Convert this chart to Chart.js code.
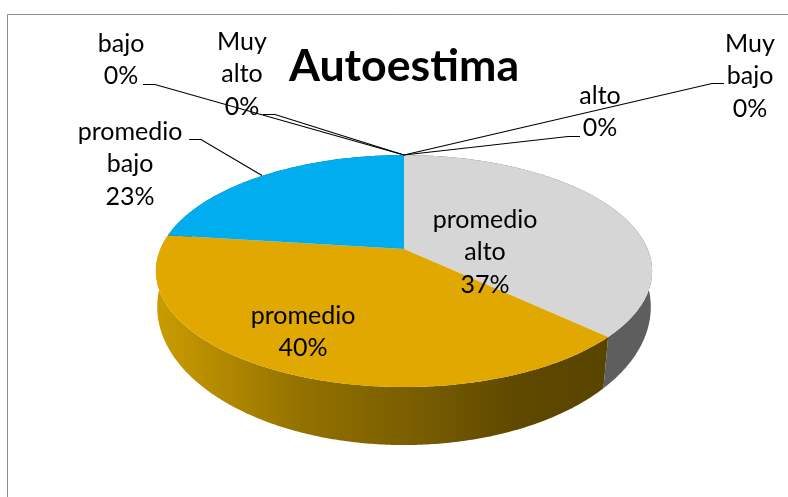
<!DOCTYPE html>
<html><head><meta charset="utf-8">
<style>html,body{margin:0;padding:0;background:#fff}canvas{display:block}</style>
<script src="https://cdn.jsdelivr.net/npm/chart.js@4"></script>
</head><body><canvas id="c" width="788" height="497"></canvas>
<script>
const categories = ["Muy bajo","alto","promedio alto","promedio","promedio bajo","bajo","Muy alto"];
const values = [0,0,37,40,23,0,0];
const sliceColors = ["#a5a5a5","#ffc000","#d6d6d6","#e0a800","#00adee","#264478","#70ad47"];
const titleText = "Autoestima";
const labelCenters = [[750,44],[600,96],[485,220],[303,316],[130,132],[121,44],[242,42]];
const leaders = [
  [[724,83.5],[712,83.5],[404,155]],
  [[580,136.5],[568,136.5],[404,155]],
  null,null,
  [[189,139.5],[201,139.5],[262,175.5]],
  [[143,84.5],[155,84.5],[404,155]],
  [[263,114.5],[275,114.5],[404,155]]
];
const LINE_H = 32.4;
const TOP = {k:-0.19,a:243.6,b:111.8,dy:0};
const BOT = {k:-0.16,a:243.6,b:134.5,dy:35.9};

function pt(arc,angle,p){
  const th = angle + Math.PI/2, x = Math.sin(th), y = -Math.cos(th), d = 1 + p.k*y;
  return [arc.x + p.a*x/d, arc.y + p.dy + p.b*y/d];
}
function rim(ctx,arc,s,e,p,move){
  const n = Math.max(2,Math.ceil(Math.abs(e-s)/0.01));
  for(let i=0;i<=n;i++){
    const q = pt(arc,s+(e-s)*i/n,p);
    (i===0&&move)?ctx.moveTo(q[0],q[1]):ctx.lineTo(q[0],q[1]);
  }
}
const pie3d = {
  id:'pie3d',
  beforeDraw(chart){
    const c = chart.ctx;
    c.save();c.strokeStyle='#8e8e8e';c.lineWidth=1;
    c.beginPath();c.moveTo(7.5,497);c.lineTo(7.5,14.5);c.lineTo(788,14.5);c.stroke();c.restore();
  },
  beforeDatasetDraw(chart,args){
    const c = chart.ctx, arcs = chart.getDatasetMeta(args.index).data;
    const grad = c.createLinearGradient(156,0,608,0);
    grad.addColorStop(0,'#cb9c00');grad.addColorStop(0.32,'#947200');
    grad.addColorStop(0.55,'#7b5f00');grad.addColorStop(0.8,'#5f4900');grad.addColorStop(1,'#594400');
    const wall = ['#5e5e5e','#5e5e5e','#5e5e5e',grad,'#005f82','#5e5e5e','#5e5e5e'];
    c.save();
    [4,2,3].forEach(i=>{
      const a = arcs[i];
      c.beginPath();
      rim(c,a,a.startAngle,a.endAngle,TOP,true);
      rim(c,a,a.endAngle,a.startAngle,BOT,false);
      c.closePath();c.fillStyle=wall[i];c.fill();
    });
    arcs.forEach((a,i)=>{
      if(a.endAngle-a.startAngle<=0) return;
      c.beginPath();c.moveTo(a.x,a.y);
      rim(c,a,a.startAngle,a.endAngle,TOP,false);
      c.closePath();c.fillStyle=sliceColors[i];c.fill();
    });
    c.restore();
    return false;
  },
  afterDatasetsDraw(chart){
    const c = chart.ctx;
    c.save();
    c.font='25px Lato';c.fillStyle='#000';c.textAlign='center';c.textBaseline='middle';
    categories.forEach((cat,i)=>{
      const lines = cat.split(' ').concat([values[i]+'%']);
      lines.forEach((t,j)=>c.fillText(t,labelCenters[i][0],labelCenters[i][1]+j*LINE_H));
    });
    c.strokeStyle='#000';c.lineWidth=1.2;
    leaders.forEach(l=>{
      if(!l) return;
      c.beginPath();l.forEach((p,j)=>j?c.lineTo(p[0],p[1]):c.moveTo(p[0],p[1]));c.stroke();
    });
    c.restore();
  }
};
new Chart(document.getElementById('c'),{
  type:'pie',
  data:{labels:categories,datasets:[{data:values,backgroundColor:sliceColors,borderWidth:0}]},
  plugins:[pie3d],
  options:{
    responsive:false,animation:false,
    layout:{padding:{top:40,bottom:92.6,left:20,right:0}},
    plugins:{
      legend:{display:false},tooltip:{enabled:false},
      title:{display:true,text:titleText,color:'#000',align:'center',
        font:{family:'Lato',size:44.7,weight:'bold'},padding:{top:0,bottom:0}}
    }
  }
});
</script></body></html>
